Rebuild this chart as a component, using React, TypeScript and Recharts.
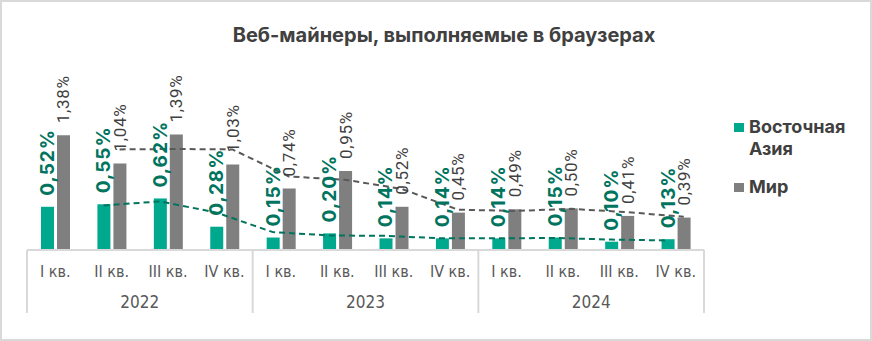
import React from 'react'
import { ComposedChart, Bar, Line, XAxis, YAxis, LabelList } from 'recharts'

const quarters = ['I кв.', 'II кв.', 'III кв.', 'IV кв.', 'I кв.', 'II кв.', 'III кв.', 'IV кв.', 'I кв.', 'II кв.', 'III кв.', 'IV кв.']
const years = ['2022', '2023', '2024']
const eastAsia = [0.52, 0.55, 0.62, 0.28, 0.15, 0.2, 0.14, 0.14, 0.14, 0.15, 0.1, 0.13]
const world = [1.38, 1.04, 1.39, 1.03, 0.74, 0.95, 0.52, 0.45, 0.49, 0.5, 0.41, 0.39]
// пунктирные линии тренда (скользящее среднее)
const eastAsiaTrend = [null, 0.535, 0.585, 0.45, 0.215, 0.175, 0.17, 0.14, 0.14, 0.145, 0.125, 0.115]
const worldTrend = [null, 1.21, 1.215, 1.21, 0.885, 0.845, 0.735, 0.485, 0.47, 0.495, 0.455, 0.4]

const GREEN = '#00a88e'
const GREEN_DARK = '#00745e'
const GRAY = '#7f7f7f'
const GRID = '#d9d9d9'

const W = 872
const H = 341
const LEFT = 27
const RIGHT = 704
const AXIS_Y = 250
const BW = (RIGHT - LEFT) / quarters.length
const SHIFT = 8 / BW

const data = quarters.map((q, i) => ({
  idx: i,
  q,
  ea: eastAsia[i],
  world: world[i],
  eaTrend: eastAsiaTrend[i],
  worldTrend: worldTrend[i],
}))

const fmt = (v: number) => v.toFixed(2).replace('.', ',') + '%'

function GreenLabel(p: any) {
  const cx = p.x + p.width / 2
  const y0 = p.y - 11
  return (
    <text x={cx} y={y0} transform={`rotate(-90 ${cx} ${y0})`} textAnchor="start" dominantBaseline="central"
      fill={GREEN_DARK} fontSize={19} fontWeight={700} fontFamily="Inter, 'Noto Sans', sans-serif" letterSpacing={1}>
      {fmt(p.value)}
    </text>
  )
}

function GrayLabel(p: any) {
  const cx = p.x + p.width / 2
  const y0 = p.y - 12
  return (
    <text x={cx} y={y0} transform={`rotate(-90 ${cx} ${y0})`} textAnchor="start" dominantBaseline="central"
      fill="#404040" fontSize={17} fontFamily="Roboto, 'Noto Sans', sans-serif" letterSpacing={0.7}>
      {fmt(p.value)}
    </text>
  )
}

function QuarterTick(p: any) {
  const i = p.index ?? p.payload.index
  const x = p.x
  const font = "'Liberation Sans Narrow', 'DejaVu Sans Condensed', sans-serif"
  return (
    <g>
      <text x={x} y={271} textAnchor="middle" dominantBaseline="central" fill="#595959" fontSize={16} fontFamily={font}>
        {p.payload.value}
      </text>
      {i % 4 === 0 && <line x1={x - BW / 2} x2={x - BW / 2} y1={AXIS_Y} y2={313} stroke={GRID} strokeWidth={2} />}
      {i === quarters.length - 1 && <line x1={x + BW / 2} x2={x + BW / 2} y1={AXIS_Y} y2={313} stroke={GRID} strokeWidth={2} />}
      {i % 4 === 1 && (
        <text x={x + BW / 2} y={302} textAnchor="middle" dominantBaseline="central" fill="#595959" fontSize={17} fontFamily={font}>
          {years[Math.floor(i / 4)]}
        </text>
      )}
    </g>
  )
}

function LegendBox() {
  const item = { display: 'flex', alignItems: 'flex-start', fontFamily: "Inter, 'Noto Sans', sans-serif", fontWeight: 700, fontSize: 18, color: '#404040', lineHeight: '22px' } as const
  return (
    <div style={{ position: 'absolute', left: 732, top: 114 }}>
      <div style={item}>
        <span style={{ width: 10, height: 9, background: GREEN, marginTop: 7, marginRight: 5, flex: 'none' }} />
        <span>Восточная<br />Азия</span>
      </div>
      <div style={{ ...item, marginTop: 16 }}>
        <span style={{ width: 10, height: 9, background: GRAY, marginTop: 7, marginRight: 5, flex: 'none' }} />
        <span>Мир</span>
      </div>
    </div>
  )
}

export default function App() {
  return (
    <div style={{ position: 'absolute', left: 0, top: 0, width: W, height: H, background: '#fff', border: `2px solid ${GRID}`, boxSizing: 'border-box' }}>
      <div style={{ position: 'absolute', left: -2, top: -2 }}>
        <ComposedChart width={W} height={H} data={data} margin={{ top: 117, right: W - RIGHT, bottom: 28, left: LEFT }} barSize={13} barGap={3}>
          <XAxis xAxisId="cat" dataKey="q" interval={0} tickLine={false} axisLine={{ stroke: GRID, strokeWidth: 2 }} height={63} tick={<QuarterTick />} />
          <XAxis xAxisId="g" dataKey="idx" type="number" hide domain={[-0.5 + SHIFT, 11.5 + SHIFT]} allowDataOverflow />
          <XAxis xAxisId="w" dataKey="idx" type="number" hide domain={[-0.5 - SHIFT, 11.5 - SHIFT]} allowDataOverflow />
          <YAxis hide domain={[0, 1.6]} allowDataOverflow />
          <Bar xAxisId="cat" dataKey="ea" name="Восточная Азия" fill={GREEN} isAnimationActive={false}>
            <LabelList dataKey="ea" content={<GreenLabel />} />
          </Bar>
          <Bar xAxisId="cat" dataKey="world" name="Мир" fill={GRAY} isAnimationActive={false}>
            <LabelList dataKey="world" content={<GrayLabel />} />
          </Bar>
          <Line xAxisId="g" dataKey="eaTrend" stroke={GREEN_DARK} strokeWidth={2} strokeDasharray="6 4" dot={false} activeDot={false} isAnimationActive={false} />
          <Line xAxisId="w" dataKey="worldTrend" stroke="#595959" strokeWidth={2} strokeDasharray="6 4" dot={false} activeDot={false} isAnimationActive={false} />
        </ComposedChart>
      </div>
      <div style={{ position: 'absolute', left: -2, top: 21, width: W, textAlign: 'center', paddingLeft: 16, boxSizing: 'border-box', fontFamily: "Inter, 'Noto Sans', sans-serif", fontWeight: 700, fontSize: 20, color: '#404040' }}>
        Веб-майнеры, выполняемые в браузерах
      </div>
      <LegendBox />
    </div>
  )
}
